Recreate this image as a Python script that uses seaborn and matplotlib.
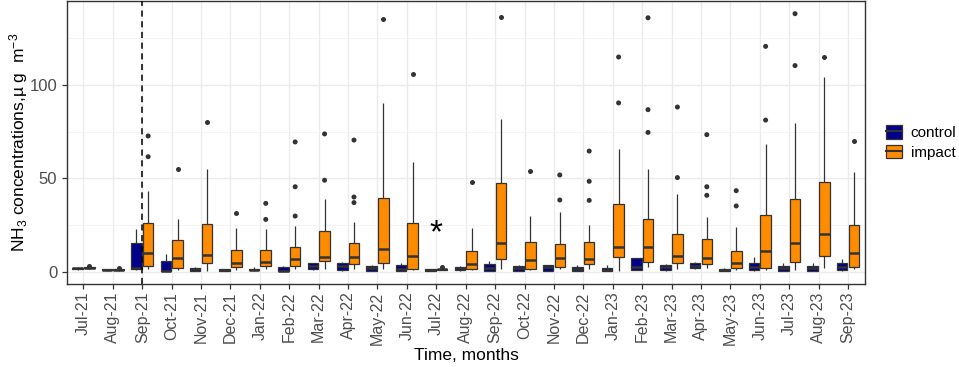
import numpy as np
import pandas as pd
import matplotlib
matplotlib.use("Agg")
import matplotlib.pyplot as plt
from matplotlib.patches import Patch
from matplotlib.lines import Line2D
from matplotlib.ticker import FixedLocator
import seaborn as sns

plt.rcParams['font.family'] = ['Liberation Sans', 'DejaVu Sans']
plt.rcParams['mathtext.fontset'] = 'custom'
plt.rcParams['mathtext.rm'] = 'Liberation Sans'
plt.rcParams['mathtext.it'] = 'Liberation Sans:italic'

months = ["Jul-21", "Aug-21", "Sep-21", "Oct-21", "Nov-21", "Dec-21", "Jan-22", "Feb-22",
          "Mar-22", "Apr-22", "May-22", "Jun-22", "Jul-22", "Aug-22", "Sep-22", "Oct-22",
          "Nov-22", "Dec-22", "Jan-23", "Feb-23", "Mar-23", "Apr-23", "May-23", "Jun-23",
          "Jul-23", "Aug-23", "Sep-23"]
groups = ["control", "impact"]

# control box statistics (whisker low, Q1, median, Q3, whisker high)
control_lo = [1.0, 0.4, 1.0, 0.3, 0.3, 0.2, 0.5, 0.3, 1.0, 0.5, 0.3, 0.3, 0.3, 0.5, 0.3, 0.3, 0.3, 0.3, 0.3, 0.8, 0.5, 1.5, 0.1, 0.6, 0.3, 0.3, 0.6]
control_q1 = [1.4, 0.7, 1.3, 0.5, 0.5, 0.4, 0.9, 0.5, 1.4, 0.7, 0.5, 0.5, 0.5, 0.7, 0.5, 0.5, 0.5, 0.5, 0.5, 1.1, 0.7, 1.8, 0.2, 0.9, 0.5, 0.5, 0.9]
control_med = [1.8, 1.0, 1.8, 0.6, 1.2, 0.8, 1.1, 0.6, 2.9, 3.0, 1.8, 1.6, 0.9, 2.1, 1.8, 1.8, 2.5, 1.6, 0.9, 2.7, 2.7, 3.2, 0.9, 2.3, 2.0, 2.1, 2.7]
control_q3 = [2.2, 1.3, 15.5, 5.9, 2.1, 1.4, 1.6, 2.7, 4.5, 4.5, 3.2, 3.4, 1.2, 2.7, 3.9, 3.2, 3.6, 2.7, 1.8, 7.1, 3.6, 4.8, 1.4, 4.5, 3.0, 3.0, 4.6]
control_hi = [2.5, 1.6, 22.7, 9.3, 2.6, 1.7, 2.3, 3.2, 4.8, 5.0, 3.5, 4.6, 1.5, 3.0, 5.9, 3.8, 3.8, 3.8, 3.6, 7.5, 4.0, 5.2, 2.1, 7.9, 4.5, 4.6, 6.8]

# impact box statistics
impact_lo = [1.5, 0.6, 1.2, 0.9, 0.5, 0.9, 1.6, 1.2, 1.6, 1.6, 1.2, 0.9, 0.9, 0.9, 1.2, 0.9, 1.6, 1.6, 0.5, 2.3, 1.6, 1.8, 0.9, 0.9, 0.9, 1.8, 1.4]
impact_q1 = [1.9, 0.9, 3.2, 1.8, 4.8, 2.3, 2.9, 3.2, 5.7, 3.9, 4.5, 1.6, 1.1, 1.4, 6.6, 1.6, 2.7, 3.9, 8.0, 5.4, 4.8, 3.9, 1.8, 1.8, 5.2, 8.4, 2.7]
impact_med = [2.2, 1.1, 10.0, 7.1, 8.7, 4.6, 5.0, 7.0, 8.0, 7.7, 12.0, 8.2, 1.3, 4.3, 15.5, 6.0, 7.1, 6.8, 13.2, 13.4, 8.6, 7.1, 4.8, 11.2, 15.5, 20.0, 9.8]
impact_q3 = [2.5, 1.4, 26.3, 17.1, 25.5, 11.8, 11.8, 13.4, 21.8, 15.5, 39.6, 26.0, 1.6, 11.2, 47.5, 16.0, 14.6, 15.7, 36.0, 28.2, 20.0, 17.5, 10.9, 30.4, 39.1, 48.2, 25.2]
impact_hi = [2.8, 1.6, 43.2, 28.2, 55.0, 23.4, 22.7, 24.5, 38.8, 26.6, 90.2, 58.6, 1.9, 23.2, 82.0, 29.6, 31.8, 25.0, 65.5, 55.0, 41.8, 29.3, 23.9, 68.4, 79.5, 104.5, 53.2]

# outliers
outlier_month = ["Jul-21", "Aug-21", "Sep-21", "Sep-21", "Oct-21", "Nov-21", "Dec-21",
                 "Jan-22", "Jan-22", "Feb-22", "Feb-22", "Feb-22", "Mar-22", "Mar-22",
                 "Apr-22", "Apr-22", "Apr-22", "May-22", "Jun-22", "Jul-22", "Aug-22",
                 "Sep-22", "Oct-22", "Nov-22", "Nov-22", "Dec-22", "Dec-22", "Dec-22",
                 "Jan-23", "Jan-23", "Feb-23", "Feb-23", "Feb-23", "Mar-23", "Mar-23",
                 "Apr-23", "Apr-23", "Apr-23", "May-23", "May-23", "Jun-23", "Jun-23",
                 "Jul-23", "Jul-23", "Aug-23", "Sep-23"]
outlier_group = ["impact"] * len(outlier_month)
outlier_value = [3.2, 2.0, 61.6, 72.7, 54.8, 80.0, 31.4,
                 28.0, 36.6, 29.8, 45.5, 69.5, 49.0, 73.8,
                 37.0, 40.0, 70.5, 135.2, 105.9, 2.7, 48.2,
                 136.6, 53.8, 38.4, 51.8, 38.2, 48.4, 64.6,
                 90.4, 115.0, 74.6, 86.8, 136.0, 50.4, 88.2,
                 40.9, 45.5, 73.4, 35.2, 43.4, 81.2, 120.7,
                 110.4, 138.2, 115.2, 70.0]

y_ticks = [0, 50, 100]
y_minor = [25, 75, 125]

colors = {"control": "#00008B", "impact": "#FF8C00"}
line_col = "#333333"

# long-form table of box statistics
rows = []
stats = {"control": (control_lo, control_q1, control_med, control_q3, control_hi),
         "impact": (impact_lo, impact_q1, impact_med, impact_q3, impact_hi)}
for g in groups:
    for i, m in enumerate(months):
        for arr in stats[g]:
            rows.append({"month": m, "group": g, "value": arr[i]})
df = pd.DataFrame(rows)
out_df = pd.DataFrame({"month": outlier_month, "group": outlier_group, "value": outlier_value})

fig = plt.figure(figsize=(9.59, 3.67), dpi=100)
ax = fig.add_axes([67 / 959, 1 - 284 / 367, (865 - 67) / 959, 283 / 367])

sns.boxplot(data=df, x="month", y="value", hue="group", order=months, hue_order=groups,
            palette=colors, whis=(0, 100), showfliers=False, showcaps=False,
            width=0.8, gap=0.1, linecolor=line_col, linewidth=0.9, saturation=1,
            medianprops={"linewidth": 1.8, "color": line_col},
            legend=False, ax=ax, zorder=3)
sns.stripplot(data=out_df, x="month", y="value", hue="group", order=months, hue_order=groups,
              palette={"control": line_col, "impact": line_col}, dodge=True, jitter=False,
              size=3.6, legend=False, ax=ax, zorder=4)

ax.axvline(months.index("Sep-21"), color="black", linestyle=(0, (4, 3)), linewidth=1.1, zorder=5)
ax.text(months.index("Jul-22"), 20.5, "*", fontsize=24, ha="center", va="center", color="black", zorder=6)

ax.set_xlim(-0.56, 26.58)
ax.set_ylim(-6.6, 145)
ax.set_yticks(y_ticks)
ax.set_yticklabels([str(v) for v in y_ticks])
ax.yaxis.set_minor_locator(FixedLocator(y_minor))
ax.set_axisbelow(True)
ax.grid(True, which="major", axis="both", color="#EBEBEB", linewidth=1.0, zorder=0)
ax.grid(True, which="minor", axis="y", color="#F3F3F3", linewidth=0.6, zorder=0)
ax.tick_params(axis="y", which="minor", length=0)
ax.tick_params(axis="both", which="major", length=3.5, width=0.9, color=line_col,
               labelcolor="#4D4D4D", labelsize=12)
ax.tick_params(axis="x", labelsize=11.5, pad=2)
plt.setp(ax.get_xticklabels(), rotation=90, ha="center", va="top")
for s in ax.spines.values():
    s.set_color(line_col)
    s.set_linewidth(1.0)

ax.set_xlabel("Time, months", fontsize=12.5, color="black", labelpad=2)
ax.set_ylabel("NH$_3$ concentrations,µ g  m$^{-3}$", fontsize=12.5, color="black", labelpad=0)

handles = [(Patch(facecolor=colors[g], edgecolor=line_col, linewidth=0.9),
            Line2D([], [], color=line_col, linewidth=1.5)) for g in groups]
ax.legend(handles, groups, loc="center left", bbox_to_anchor=(1.0, 0.5), frameon=False,
          fontsize=11, handlelength=1.0, handleheight=0.95, handletextpad=0.6,
          labelspacing=0.3, borderaxespad=1.0)

fig.savefig("out.png", dpi=100)
